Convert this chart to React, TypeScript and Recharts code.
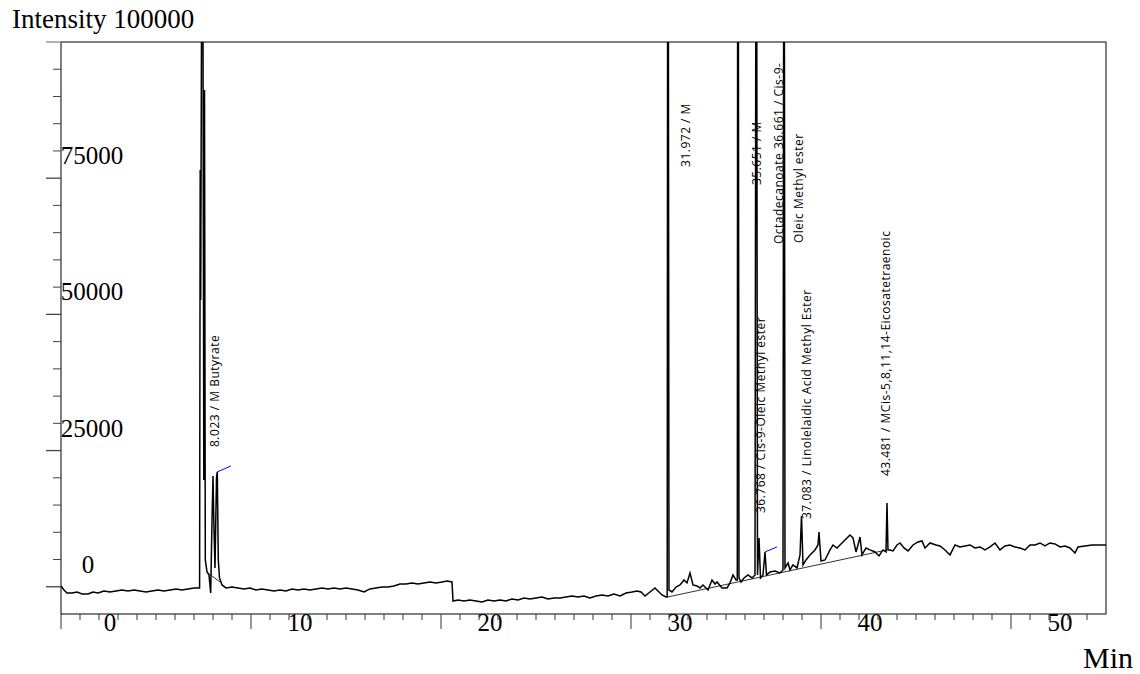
import React from 'react';
import { ComposedChart, Line, Scatter, XAxis, YAxis, ReferenceLine } from 'recharts';

type Pt = [number, number];

// Chromatogram trace: [retention time (min), intensity]
const traceStart: Pt[] = [
  [0.0, 150], [0.158, -590], [0.316, -1140], [0.579, -1140], [0.842, -960], [1.105, -1320],
  [1.421, -1320], [1.684, -960], [1.947, -1140], [2.263, -770], [2.579, -960], [2.895, -770],
  [3.211, -590], [3.526, -770], [3.842, -590], [4.158, -770], [4.474, -960], [4.789, -770],
  [5.105, -590], [5.421, -770], [5.737, -590], [6.053, -400], [6.368, -590], [6.684, -400],
  [7.0, -220], [7.263, -220],
];

const traceButyrate: Pt[] = [
  [7.295, -220], [7.326, 76500], [7.353, 52660], [7.395, 102230], [7.474, 102230], [7.516, 19610],
  [7.553, 91210], [7.595, 4920], [7.684, 2720], [7.789, 2170], [7.879, -1140], [7.947, 12260],
  [8.0, 20340], [8.053, 10430], [8.105, 3450], [8.184, 19980], [8.226, 21080], [8.279, 4920],
  [8.342, 1620], [8.474, 330], [8.684, -220],
];

const traceEarly: Pt[] = [
  [9.0, -40], [9.316, -220], [9.632, -400], [9.947, -220], [10.263, -590], [10.579, -400],
  [10.895, -590], [11.211, -770], [11.526, -590], [11.842, -770], [12.158, -400], [12.474, -590],
  [12.789, -400], [13.105, -590], [13.421, -400], [13.737, -220], [14.053, -400], [14.368, -220],
  [14.684, -400], [15.0, -220], [15.316, -400], [15.632, -590], [15.947, -960], [16.263, -400],
  [16.579, -220], [16.895, -40], [17.211, -40], [17.526, 150], [17.842, 510], [18.158, 510],
  [18.474, 700], [18.789, 510], [19.105, 700], [19.421, 880], [19.737, 700], [20.053, 880],
  [20.316, 1070], [20.579, 880],
];

const traceMid: Pt[] = [
  [20.632, -2610], [20.895, -2420], [21.211, -2610], [21.526, -2420], [21.842, -2610], [22.158, -2790],
  [22.474, -2420], [22.789, -2610], [23.105, -2420], [23.421, -2610], [23.737, -2240], [24.053, -2420],
  [24.368, -2060], [24.684, -2240], [25.0, -2060], [25.316, -1870], [25.632, -2240], [25.947, -2060],
  [26.263, -2060], [26.579, -1870], [26.895, -1690], [27.211, -1870], [27.526, -1690], [27.842, -2060],
  [28.158, -1690], [28.474, -1510], [28.789, -1690], [29.105, -1320], [29.421, -1690], [29.737, -1140],
  [30.053, -960], [30.316, -770], [30.526, -960], [30.737, -1690], [31.0, -960], [31.263, -220],
  [31.421, -770], [31.632, -1510], [31.842, -1870],
];

const traceFame: Pt[] = [
  [31.905, -1870], [31.926, 102230], [31.968, 102230], [32.0, -590], [32.158, -960], [32.368, -40],
  [32.579, 330], [32.789, 1250], [32.947, 700], [33.105, 2530], [33.263, 330], [33.474, 150],
  [33.632, -220], [33.789, 330], [34.053, -590], [34.263, 1250], [34.421, 510], [34.526, 880],
  [34.789, -220], [35.053, -220], [35.211, 700], [35.368, 2170], [35.526, 1250], [35.595, 1250],
  [35.611, 102230], [35.653, 102230], [35.684, 1620], [35.789, 880], [35.947, 1620], [36.158, 2170],
  [36.368, 1620], [36.526, 2170], [36.568, 102230], [36.621, 102230], [36.658, 2170], [36.737, 8960],
  [36.816, 1620], [36.947, 2170], [37.053, 6390], [37.132, 2170], [37.316, 2720], [37.579, 2900],
  [37.842, 2530], [38.0, 3080], [38.032, 102230], [38.074, 102230], [38.105, 3450], [38.263, 4370],
  [38.368, 3080], [38.526, 4000], [38.737, 3450], [38.895, 5840], [38.974, 13000], [39.053, 4000],
  [39.211, 4920], [39.421, 5840], [39.684, 6760], [39.842, 7670], [39.895, 10060], [40.0, 4740],
  [40.211, 4920], [40.474, 6760], [40.632, 7670], [40.842, 7120], [41.0, 7670], [41.263, 8590],
  [41.526, 9510], [41.684, 8960], [41.842, 6390], [41.947, 7670], [42.053, 9140], [42.158, 5840],
  [42.368, 7120], [42.579, 6760], [42.842, 6390], [43.053, 5660], [43.263, 6760], [43.421, 6390],
  [43.474, 15390], [43.526, 6760],
];

const traceLate: Pt[] = [
  [43.632, 6760], [43.789, 6570], [44.0, 7670], [44.158, 8040], [44.368, 7120], [44.579, 6570],
  [44.842, 7670], [45.105, 8230], [45.316, 8410], [45.474, 7120], [45.737, 8040], [46.053, 7670],
  [46.263, 7490], [46.526, 6760], [46.789, 5840], [47.053, 7670], [47.316, 7310], [47.579, 7490],
  [47.842, 7670], [48.105, 7120], [48.368, 7310], [48.632, 6760], [48.895, 7310], [49.158, 8040],
  [49.421, 6760], [49.684, 7490], [49.947, 7670], [50.211, 7310], [50.474, 7120], [50.737, 6760],
  [51.0, 7670], [51.263, 7670], [51.526, 8040], [51.789, 7490], [52.053, 8040], [52.316, 7860],
  [52.579, 7310], [52.842, 7490], [53.105, 7120], [53.368, 6210], [53.526, 7310], [53.895, 7490],
  [54.263, 7670], [54.632, 7670], [55.0, 7670],
];

// Integration baselines and markers
const fameBaseline: Pt[] = [[31.947, -1870], [43.474, 6760]];
const butyrateBaseline: Pt[] = [[7.737, 2530], [8.368, 880]];
const butyrateMarker: Pt[] = [[8.226, 21080], [8.947, 22180]];
const oleicMarker: Pt[] = [[37.053, 6390], [37.684, 7310]];

// Peak annotations
const peakLabelText = [
  '8.023 / M Butyrate',
  '31.972 / M',
  '35.651 / M',
  'Octadecanoate 36.661 / Cis-9-',
  'Oleic Methyl ester',
  '36.768 / Cis-9-Oleic Methyl ester',
  '37.083 / Linolelaidic Acid Methyl Ester',
  '43.481 / MCis-5,8,11,14-Eicosatetraenoic',
];
const peakLabelTime = [8.105, 32.89, 36.63, 37.74, 38.84, 36.84, 39.26, 43.42];
const peakLabelIntensity = [25660, 77060, 73750, 62920, 63100, 13540, 12440, 20330];

// Axes
const xTickValues = [0, 1, 2, 3, 4, 5, 6, 7, 8, 9, 10, 11, 12, 13, 14, 15, 16, 17, 18, 19, 20, 21, 22, 23, 24, 25, 26, 27, 28, 29, 30, 31, 32, 33, 34, 35, 36, 37, 38, 39, 40, 41, 42, 43, 44, 45, 46, 47, 48, 49, 50, 51, 52, 53, 54];
const xLabelValues = [0, 10, 20, 30, 40, 50];
const yTickValues = [0, 5000, 10000, 15000, 20000, 25000, 30000, 35000, 40000, 45000, 50000, 55000, 60000, 65000, 70000, 75000, 80000, 85000, 90000, 95000, 100000];
const yLabelValues = [0, 25000, 50000, 75000];

const toRows = (pts: Pt[]) => pts.map(([t, v]) => ({ t, v }));
const traceData = toRows([...traceStart, ...traceButyrate, ...traceEarly, ...traceMid, ...traceFame, ...traceLate]);
const labelData = peakLabelText.map((label, i) => ({ t: peakLabelTime[i], v: peakLabelIntensity[i], label }));

const SERIF = "'Liberation Serif', 'Times New Roman', serif";
const SANS = "'Open Sans', 'Noto Sans', sans-serif";

const renderXTick = (props: any) => {
  const { x, y, payload } = props;
  const value = payload.value as number;
  const major = value % 10 === 0;
  return (
    <g key={`xt-${value}`}>
      <line x1={x} y1={y} x2={x} y2={y + (major ? 15 : 6)} stroke="#333" strokeWidth={1} />
      {xLabelValues.includes(value) && (
        <text x={x + 49} y={y + 17} textAnchor="middle" fontSize={25} fontFamily={SERIF} fill="#000">
          {value}
        </text>
      )}
    </g>
  );
};

const renderYTick = (props: any) => {
  const { x, y, payload } = props;
  const value = payload.value as number;
  const major = value % 25000 === 0;
  return (
    <g key={`yt-${value}`}>
      <line x1={x - (major ? 15 : 8)} y1={y} x2={x} y2={y} stroke={value === 100000 ? '#888' : '#444'} strokeWidth={major ? 1.3 : 1} />
      {yLabelValues.includes(value) && (
        <text x={x + (value === 0 ? 27 : 31)} y={y - 14} textAnchor="middle" fontSize={25} fontFamily={SERIF} fill="#000">
          {value}
        </text>
      )}
    </g>
  );
};

const PeakLabel = (props: any) => {
  const { cx, cy, payload } = props;
  return (
    <text
      x={cx}
      y={cy}
      transform={`rotate(-90 ${cx} ${cy})`}
      textAnchor="start"
      dominantBaseline="central"
      fontSize={12}
      letterSpacing={0.5}
      fontFamily={SANS}
      fill="#000"
    >
      {payload.label}
    </text>
  );
};

export default function App() {
  return (
    <div style={{ position: 'absolute', left: 0, top: 0, width: 1140, height: 674, background: '#fff' }}>
      <ComposedChart width={1140} height={674} margin={{ top: 42, right: 34, bottom: 30, left: 21 }}>
        <XAxis
          type="number"
          dataKey="t"
          domain={[0, 55]}
          ticks={xTickValues}
          interval={0}
          tick={renderXTick}
          tickLine={false}
          tickSize={0}
          tickMargin={0}
          height={30}
          allowDataOverflow
          axisLine={{ stroke: '#000', strokeWidth: 1 }}
        />
        <YAxis
          type="number"
          domain={[-5000, 100000]}
          ticks={yTickValues}
          interval={0}
          tick={renderYTick}
          tickLine={false}
          tickSize={0}
          tickMargin={0}
          width={40}
          allowDataOverflow
          axisLine={{ stroke: '#000', strokeWidth: 1 }}
        />
        <ReferenceLine y={100000} stroke="#000" strokeWidth={1} />
        <ReferenceLine x={55} stroke="#000" strokeWidth={1} />
        <Line data={toRows(fameBaseline)} dataKey="v" type="linear" stroke="#333" strokeWidth={1} dot={false} isAnimationActive={false} />
        <Line data={toRows(butyrateBaseline)} dataKey="v" type="linear" stroke="#333" strokeWidth={1} dot={false} isAnimationActive={false} />
        <Line data={traceData} dataKey="v" type="linear" stroke="#000" strokeWidth={1.5} dot={false} isAnimationActive={false} />
        <Line data={toRows(butyrateMarker)} dataKey="v" type="linear" stroke="#0000ff" strokeWidth={1} dot={false} isAnimationActive={false} />
        <Line data={toRows(oleicMarker)} dataKey="v" type="linear" stroke="#0000ff" strokeWidth={1} dot={false} isAnimationActive={false} />
        <Scatter data={labelData} dataKey="v" shape={PeakLabel} isAnimationActive={false} />
      </ComposedChart>
      <svg width={1140} height={674} style={{ position: 'absolute', left: 0, top: 0, pointerEvents: 'none' }}>
        <text x={12} y={28} fontSize={27} fontFamily={SERIF} fill="#000">Intensity 100000</text>
        <text x={1083} y={668} fontSize={30} fontFamily={SERIF} fill="#000">Min</text>
      </svg>
    </div>
  );
}
